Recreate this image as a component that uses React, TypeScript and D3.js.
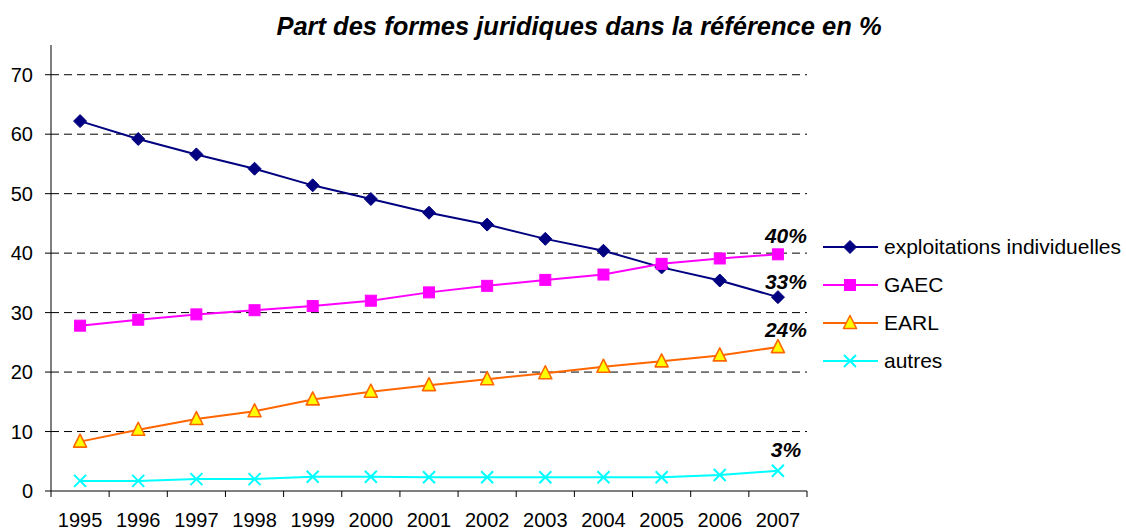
import React from "react";
import * as d3 from "d3";

const years = ["1995","1996","1997","1998","1999","2000","2001","2002","2003","2004","2005","2006","2007"];
const exploitations = [62.2, 59.2, 56.6, 54.2, 51.4, 49.1, 46.8, 44.8, 42.4, 40.4, 37.6, 35.4, 32.6];
const gaec = [27.8, 28.8, 29.7, 30.4, 31.1, 32.0, 33.4, 34.5, 35.5, 36.4, 38.2, 39.1, 39.8];
const earl = [8.3, 10.3, 12.1, 13.4, 15.4, 16.7, 17.8, 18.8, 19.8, 20.9, 21.8, 22.8, 24.2];
const autres = [1.7, 1.7, 2.0, 2.0, 2.4, 2.4, 2.3, 2.3, 2.3, 2.3, 2.3, 2.7, 3.4];
const yTicks = [0, 10, 20, 30, 40, 50, 60, 70];
const endLabels = ["40%", "33%", "24%", "3%"];

const W = 1126, H = 530;
const left = 51, right = 807, top = 45, bottom = 491;

type S = { name: string; values: number[]; color: string; marker: string; fill: string; label: string; dy: number };
const series: S[] = [
  { name: "exploitations individuelles", values: exploitations, color: "#000080", marker: "diamond", fill: "#000080", label: endLabels[1], dy: -8 },
  { name: "GAEC", values: gaec, color: "#FF00FF", marker: "square", fill: "#FF00FF", label: endLabels[0], dy: -11 },
  { name: "EARL", values: earl, color: "#FF6600", marker: "triangle", fill: "#FFFF00", label: endLabels[2], dy: -10 },
  { name: "autres", values: autres, color: "#00FFFF", marker: "cross", fill: "none", label: endLabels[3], dy: -14 },
];

function Marker({ type, x, y, color, fill }: { type: string; x: number; y: number; color: string; fill: string }) {
  if (type === "diamond") {
    const r = 6.5;
    return <path d={`M${x},${y - r}L${x + r},${y}L${x},${y + r}L${x - r},${y}Z`} fill={fill} stroke={color} strokeWidth={1} />;
  }
  if (type === "square") {
    const r = 5.5;
    return <rect x={x - r} y={y - r} width={2 * r} height={2 * r} fill={fill} stroke={color} strokeWidth={1} />;
  }
  if (type === "triangle") {
    const r = 6.5;
    return <path d={`M${x},${y - r - 1}L${x + r},${y + r - 1}L${x - r},${y + r - 1}Z`} fill={fill} stroke={color} strokeWidth={1.6} strokeLinejoin="round" />;
  }
  const r = 6;
  return <path d={`M${x - r},${y - r}L${x + r},${y + r}M${x - r},${y + r}L${x + r},${y - r}`} stroke={color} strokeWidth={2} />;
}

export default function App() {
  const x = d3.scaleBand<string>().domain(years).range([left, right]);
  const y = d3.scaleLinear().domain([0, 75]).range([bottom, top]);
  const cx = (i: number) => (x(years[i]) as number) + x.bandwidth() / 2;
  const line = d3.line<number>().x((_, i) => cx(i)).y((v) => y(v));
  const font = "Arial, 'Liberation Sans', sans-serif";
  const boundaries = years.map((yr) => x(yr) as number).concat([right]);
  const legendY = [247, 285, 323, 361];

  return (
    <svg width={W} height={H} style={{ position: "absolute", left: 0, top: 0, background: "#fff" }} fontFamily={font}>
      <text x={579} y={35} textAnchor="middle" fontSize={25.5} fontWeight="bold" fontStyle="italic" fill="#000">
        Part des formes juridiques dans la référence en %
      </text>
      {yTicks.filter((t) => t > 0).map((t) => (
        <line key={"g" + t} x1={left} x2={right} y1={y(t)} y2={y(t)} stroke="#000" strokeWidth={1} strokeDasharray="8,5" />
      ))}
      <line x1={left} x2={left} y1={top} y2={bottom} stroke="#000" strokeWidth={1} />
      <line x1={left} x2={right} y1={bottom} y2={bottom} stroke="#000" strokeWidth={1} />
      {yTicks.map((t) => (
        <g key={"t" + t}>
          <line x1={left - 6} x2={left} y1={y(t)} y2={y(t)} stroke="#000" />
          <text x={33} y={y(t) + 7} textAnchor="end" fontSize={20} fill="#000">{t}</text>
        </g>
      ))}
      {boundaries.map((b, i) => (
        <line key={"xt" + i} x1={b} x2={b} y1={bottom} y2={bottom + 6} stroke="#000" />
      ))}
      {years.map((yr, i) => (
        <text key={yr} x={cx(i)} y={527} textAnchor="middle" fontSize={20} fill="#000">{yr}</text>
      ))}
      {series.map((s) => (
        <g key={s.name}>
          <path d={line(s.values) || ""} fill="none" stroke={s.color} strokeWidth={2} />
          {s.values.map((v, i) => (
            <Marker key={i} type={s.marker} x={cx(i)} y={y(v)} color={s.color} fill={s.fill} />
          ))}
          <text x={cx(years.length - 1) + 8} y={y(s.values[s.values.length - 1]) + s.dy} textAnchor="middle" fontSize={21} fontWeight="bold" fontStyle="italic" fill="#000">
            {s.label}
          </text>
        </g>
      ))}
      {series.map((s, i) => (
        <g key={"l" + s.name}>
          <line x1={823} x2={878} y1={legendY[i]} y2={legendY[i]} stroke={s.color} strokeWidth={2} />
          <Marker type={s.marker} x={850} y={legendY[i]} color={s.color} fill={s.fill} />
          <text x={884} y={legendY[i] + 7} fontSize={21} fill="#000">{s.name}</text>
        </g>
      ))}
    </svg>
  );
}
